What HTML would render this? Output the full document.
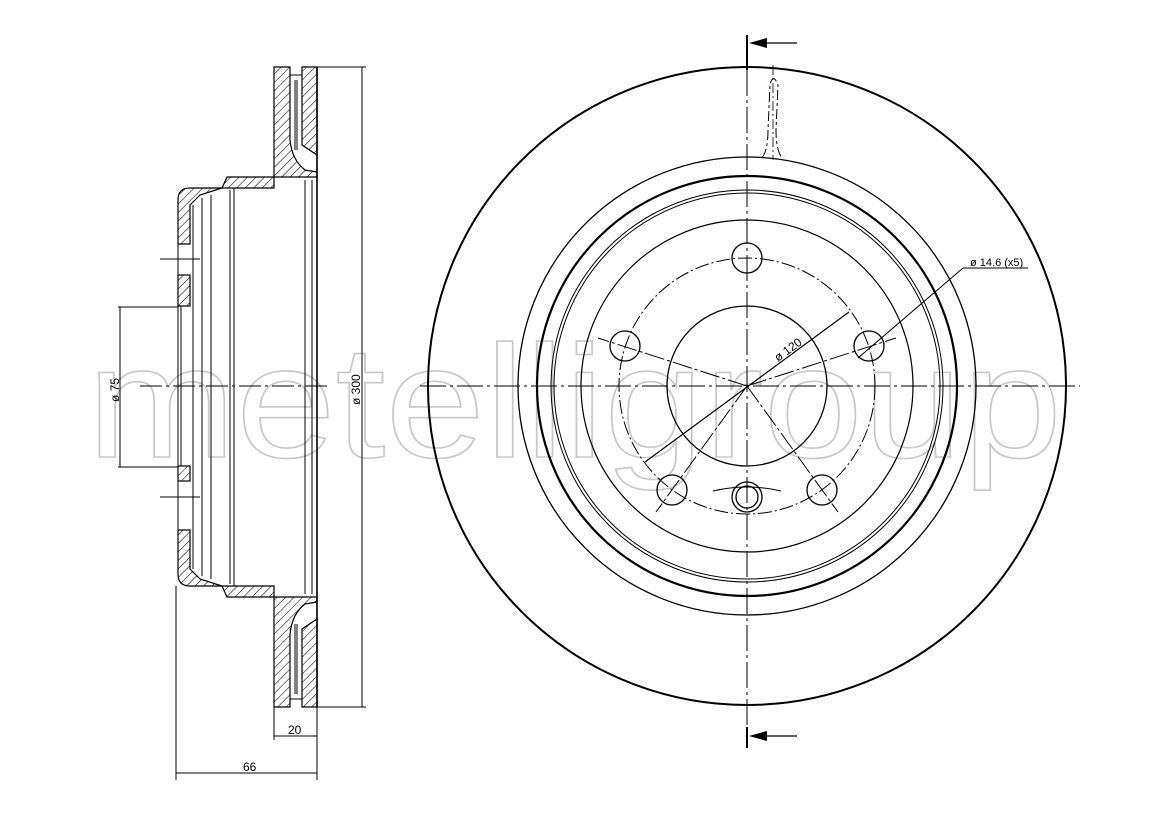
<!DOCTYPE html>
<html><head><meta charset="utf-8"><style>html,body{margin:0;padding:0;background:#fff}svg{display:block}</style></head>
<body>
<svg width="1169" height="827" viewBox="0 0 1169 827" xmlns="http://www.w3.org/2000/svg" font-family="Liberation Sans, sans-serif">
<defs>
<pattern id="h" patternUnits="userSpaceOnUse" width="6" height="6" patternTransform="rotate(45)">
<rect width="6" height="6" fill="#fff"/><line x1="0" y1="0" x2="0" y2="6" stroke="#000" stroke-width="1.1"/>
</pattern>
</defs>
<text x="87" y="457" font-size="160" textLength="975" lengthAdjust="spacingAndGlyphs" fill="none" stroke="#c8c8c8" stroke-width="1.6">metelligroup</text>

<g stroke="#000" fill="none">
<circle cx="747" cy="386" r="319" stroke-width="2"/>
<circle cx="747" cy="386" r="229" stroke-width="1.3"/>
<circle cx="747" cy="386" r="210" stroke-width="2.2"/>
<circle cx="747" cy="386" r="196" stroke-width="1"/>
<circle cx="747" cy="386" r="193" stroke-width="1"/>
<circle cx="747" cy="386" r="166" stroke-width="1.2"/>
<circle cx="747" cy="386" r="128" stroke-width="1" stroke-dasharray="14,3,2,3"/>
<circle cx="747" cy="386" r="80" stroke-width="1.3"/>
<g stroke-width="1.3">
<circle cx="747" cy="258" r="15"/>
<circle cx="869" cy="346" r="15"/>
<circle cx="625" cy="346" r="15"/>
<circle cx="672" cy="490" r="15"/>
<circle cx="822" cy="490" r="15"/>
<circle cx="747" cy="497" r="15"/>
<circle cx="747" cy="497" r="11"/>
</g>
<path d="M713 491 Q747 483 781 491" stroke-width="1"/>
<line x1="420" y1="386" x2="1080" y2="386" stroke-width="1" stroke-dasharray="26,4,3,4"/>
<line x1="747" y1="70" x2="747" y2="745" stroke-width="1" stroke-dasharray="26,4,3,4"/>
<line x1="747" y1="35" x2="747" y2="70" stroke-width="2"/>
<line x1="747" y1="727" x2="747" y2="748" stroke-width="2"/>
<g stroke-width="1" stroke-dasharray="20,3,3,3">
<line x1="747" y1="386" x2="598" y2="338"/>
<line x1="747" y1="386" x2="896" y2="338"/>
<line x1="747" y1="386" x2="656" y2="512"/>
<line x1="747" y1="386" x2="838" y2="512"/>
</g>
<line x1="645" y1="462" x2="849" y2="312" stroke-width="1.2"/>
<line x1="858" y1="358" x2="963" y2="268" stroke-width="1"/>
<line x1="963" y1="268" x2="1028" y2="268" stroke-width="1"/>
<path d="M762 158 Q768 150 768 130 L770 85 Q773 72 778 85 L776 130 Q776 150 782 158" stroke-width="1" stroke-dasharray="10,3,3,3"/>
<line x1="773" y1="65" x2="773" y2="160" stroke-width="0.8" stroke-dasharray="10,3,2,3"/>
<line x1="760" y1="43" x2="797" y2="43" stroke-width="1.2"/>
<line x1="760" y1="736" x2="797" y2="736" stroke-width="1.2"/>
</g>
<polygon points="749,43 767,38 767,48" fill="#000"/>
<polygon points="749,736 767,731 767,741" fill="#000"/>
<text x="778" y="362" font-size="12" transform="rotate(-36 778 362)">ø 120</text>
<text x="970" y="266" font-size="11">ø 14.6 (x5)</text>

<g stroke="#000" stroke-width="1.2">
<path d="M274 67 L290 67 L290 140 Q292 160 305 170 L317 172 L317 177 L227 177 L222 188 L200 195 L190 205 L190 244 L178 244 L178 200 Q178 188 190 188 L274 188 L274 160 Z" fill="url(#h)"/>
<path d="M302 67 L317 67 L317 155 L302 145 Z" fill="url(#h)"/>
<path d="M274 707 L290 707 L290 634 Q292 614 305 604 L317 602 L317 597 L227 597 L222 586 L200 579 L190 569 L190 530 L178 530 L178 574 Q178 586 190 586 L274 586 L274 614 Z" fill="url(#h)"/>
<path d="M302 707 L317 707 L317 619 L302 629 Z" fill="url(#h)"/>
<rect x="178" y="275" width="12" height="31" fill="url(#h)"/>
<rect x="178" y="466" width="12" height="15" fill="url(#h)"/>
</g>
<g stroke="#000" fill="none" stroke-width="1">
<line x1="290" y1="75" x2="302" y2="75"/><line x1="290" y1="699" x2="302" y2="699"/>
<line x1="295" y1="80" x2="295" y2="150"/><line x1="297" y1="80" x2="297" y2="150"/>
<line x1="295" y1="624" x2="295" y2="694"/><line x1="297" y1="624" x2="297" y2="694"/>
<line x1="317" y1="67" x2="317" y2="707" stroke-width="1.6"/>
<line x1="312" y1="180" x2="312" y2="594"/><line x1="305" y1="180" x2="305" y2="594"/>
<line x1="234" y1="188" x2="234" y2="586"/><line x1="230" y1="190" x2="230" y2="584"/>
<line x1="211" y1="195" x2="211" y2="579"/><line x1="202" y1="198" x2="202" y2="576"/>
<line x1="193" y1="205" x2="193" y2="569"/>
<line x1="178" y1="244" x2="178" y2="530"/><line x1="181" y1="306" x2="181" y2="466"/>
<line x1="160" y1="259" x2="200" y2="259"/><line x1="160" y1="497" x2="200" y2="497"/>
<line x1="140" y1="386" x2="330" y2="386" stroke-dasharray="22,4,3,4"/>
<line x1="317" y1="67" x2="366" y2="67"/><line x1="317" y1="707" x2="366" y2="707"/>
<line x1="362" y1="67" x2="362" y2="707"/>
<line x1="118" y1="307" x2="178" y2="307"/><line x1="118" y1="467" x2="178" y2="467"/>
<line x1="120" y1="307" x2="120" y2="467"/>
<line x1="274" y1="707" x2="274" y2="740"/><line x1="317" y1="707" x2="317" y2="780"/>
<line x1="274" y1="736" x2="317" y2="736"/>
<line x1="176" y1="586" x2="176" y2="780"/>
<line x1="176" y1="773" x2="317" y2="773"/>
</g>
<text x="0" y="0" font-size="12" transform="translate(119 402) rotate(-90)">ø 75</text>
<text x="0" y="0" font-size="12" transform="translate(360 405) rotate(-90)">ø 300</text>
<text x="288" y="734" font-size="12">20</text>
<text x="243" y="771" font-size="12">66</text>
</svg>
</body></html>
